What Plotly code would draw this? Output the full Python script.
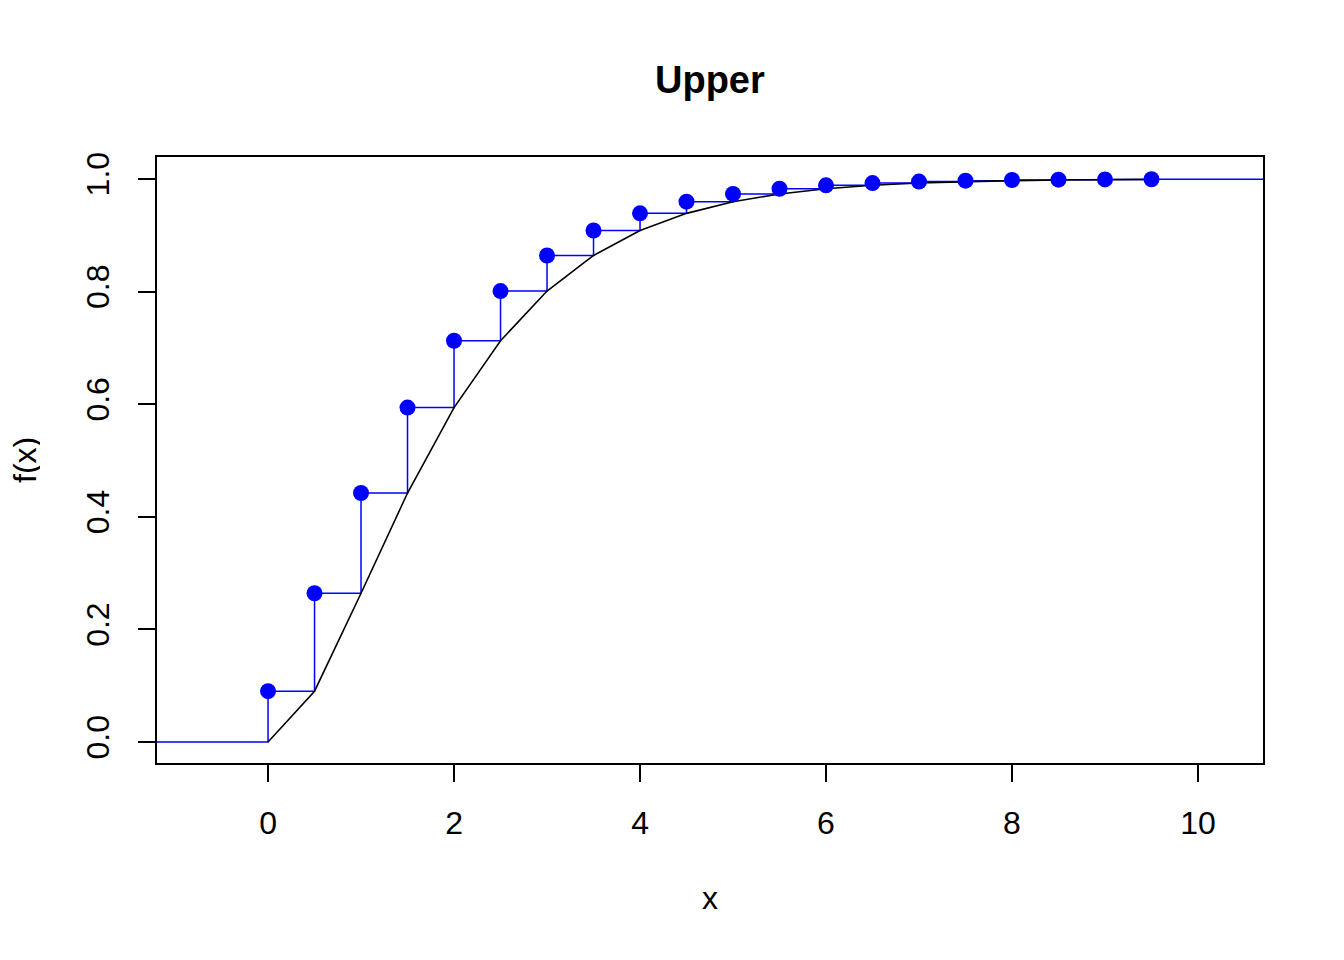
import plotly.graph_objects as go

# Data
x_vals = [0, 0.5, 1, 1.5, 2, 2.5, 3, 3.5, 4, 4.5, 5, 5.5, 6, 6.5, 7, 7.5, 8, 8.5, 9, 9.5]
upper = [0.0902, 0.2642, 0.4422, 0.5940, 0.7127, 0.8009, 0.8641, 0.9084, 0.9389, 0.9596,
         0.9734, 0.9826, 0.9887, 0.9927, 0.9953, 0.9970, 0.9981, 0.9988, 0.9992, 0.9995]
lower = [0.0] + upper[:-1]

x_range = [-1.194, 10.699]
y_range = [-0.0373, 1.039]
x_ticks = [0, 2, 4, 6, 8, 10]
y_ticks = [0.0, 0.2, 0.4, 0.6, 0.8, 1.0]
y_ticklabels = ["0.0", "0.2", "0.4", "0.6", "0.8", "1.0"]

FONT = "Liberation Sans, Arial, Helvetica, sans-serif"

# step function extended to the plot edges
step_x = [x_range[0] - 1] + x_vals + [x_range[1] + 1]
step_y = [0.0] + upper + [upper[-1]]

fig = go.Figure()
fig.add_trace(go.Scatter(x=step_x, y=step_y, mode="lines", line_shape="hv",
                         line=dict(color="#0000ff", width=1.5), showlegend=False))
fig.add_trace(go.Scatter(x=x_vals, y=lower, mode="lines",
                         line=dict(color="black", width=1.6), showlegend=False))
fig.add_trace(go.Scatter(x=x_vals, y=upper, mode="markers",
                         marker=dict(color="#0000ff", size=16), showlegend=False))

axis_common = dict(showgrid=False, zeroline=False, showline=True, linecolor="black",
                   linewidth=1.5, mirror=True, ticks="outside", ticklen=17, tickwidth=1.5,
                   tickcolor="black", tickfont=dict(family=FONT, size=32, color="black"))

# page offset of the figure inside the browser window
OFF = 8
L, R, T, B = 157 - OFF, 1344 - 1263 + OFF, 157 - OFF, 960 - 763 + OFF

fig.update_layout(
    width=1344, height=960,
    margin=dict(l=L, r=R, t=T, b=B),
    paper_bgcolor="white", plot_bgcolor="white",
    xaxis=dict(range=x_range, tickvals=x_ticks, ticktext=[str(t) for t in x_ticks],
               ticklabelstandoff=14, **axis_common),
    yaxis=dict(range=y_range, tickvals=y_ticks, ticktext=y_ticklabels, tickangle=-90,
               ticklabelstandoff=16, **axis_common),
)

plot_h = 960 - T - B
plot_w = 1344 - L - R
fig.update_layout(annotations=[
    dict(text="<b>Upper</b>", x=0.5, xref="paper", y=(763 - 80) / plot_h, yref="paper",
         showarrow=False, xanchor="center", yanchor="middle",
         font=dict(family=FONT, size=38, color="black")),
    dict(text="x", x=0.5, xref="paper", y=(763 - 898) / plot_h, yref="paper",
         showarrow=False, xanchor="center", yanchor="middle",
         font=dict(family=FONT, size=32, color="black")),
    dict(text="f(x)", x=(25 - 157) / plot_w, xref="paper", y=0.5, yref="paper",
         showarrow=False, textangle=-90, xanchor="center", yanchor="middle",
         height=30, borderpad=0,
         font=dict(family=FONT, size=32, color="black")),
])

fig.write_html("out.html")
